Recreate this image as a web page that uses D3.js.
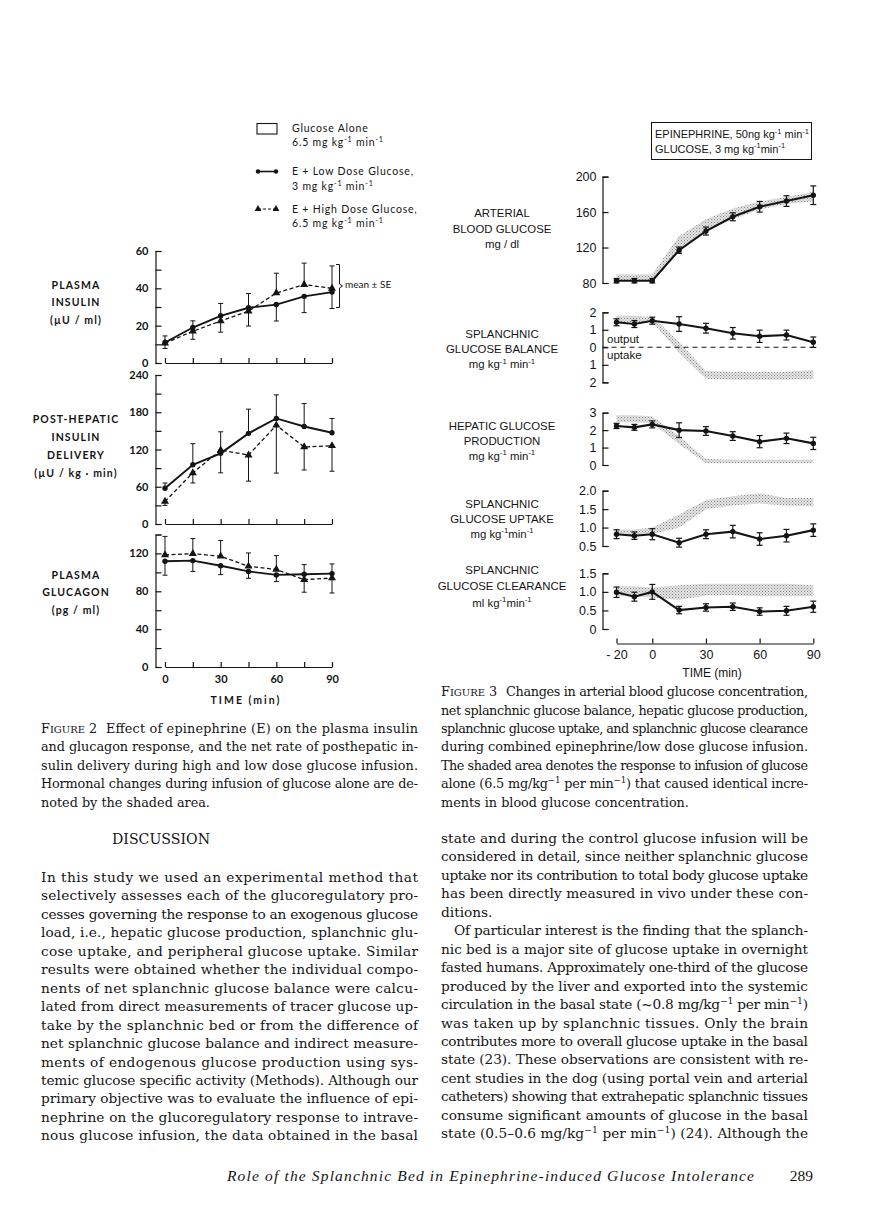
<!DOCTYPE html>
<html><head><meta charset="utf-8">
<script src="https://cdn.jsdelivr.net/npm/d3@7"></script>
<style>html,body{margin:0;padding:0;background:#fff}svg{display:block}</style>
</head><body>
<svg id="page" width="890" height="1228"></svg>
<script>
// ================= DATA =================
// Figure 2 (time in min)
const fig2Times = [0, 15, 30, 45, 60, 75, 90];
const fig2TimeLabels = [0, 30, 60, 90];
const insulinLow = [11, 19, 25.3, 29.6, 31.3, 35.7, 38];
const insulinLowSE = [3.5, 3.6, 6.6, 7.6, 8.8, 8.7, 8.8];
const insulinHigh = [10.6, 17, 22.5, 27.8, 37.5, 42, 40];
const insulinHighSE = [2.8, 4.3, 6, 8, 10.6, 11.5, 12];
const insulinTicks = [0, 20, 40, 60];
const insulinMinor = [10, 30, 50];
const deliveryLow = [57.5, 95.4, 113.8, 146, 170, 157, 147];
const deliveryLowSE = [8.5, 34, 31.4, 39, 38, 37, 23];
const deliveryHigh = [36.3, 82.4, 119, 111, 159, 124, 126];
const deliveryHighSE = [6.3, 16.4, 29.5, 42, 77, 37, 41];
const deliveryTicks = [0, 60, 120, 180, 240];
const deliveryMinor = [30, 90, 150, 210];
const glucagonLow = [111.7, 112.4, 107, 101, 97.3, 98, 98.7];
const glucagonLowSE = [14.7, 11.4, 9.4, 7.3, 7.1, 10.2, 10.2];
const glucagonHigh = [118.4, 119.8, 117, 106.4, 103, 92.3, 94];
const glucagonHighSE = [19.6, 15.9, 16.6, 14.1, 14.7, 13.3, 15.8];
const glucagonTicks = [0, 40, 80, 120];
const glucagonMinor = [20, 60, 100, 140];

// Figure 3 (time in min)
const fig3Times = [-20, -10, 0, 15, 30, 45, 60, 75, 90];
const fig3TickTimes = [-20, 0, 30, 60, 90];
const fig3TickLabels = ["- 20", "0", "30", "60", "90"];
const bloodGlucose = [82.6, 82.6, 82.6, 117, 138.6, 154.7, 166, 172.4, 179];
const bloodGlucoseSE = [2.5, 2.5, 2.5, 3.5, 4.5, 4.5, 6, 6, 10.5];
const bloodGlucoseAloneHi = [90, 90, 90, 133, 152, 164, 172, 177, 183];
const bloodGlucoseAloneLo = [82, 82, 82, 117, 138, 152, 163, 169, 172];
const bloodGlucoseTicks = [80, 120, 160, 200];
const balance = [1.43, 1.33, 1.52, 1.33, 1.09, 0.8, 0.63, 0.7, 0.29];
const balanceSE = [0.2, 0.2, 0.2, 0.42, 0.28, 0.33, 0.35, 0.28, 0.3];
const balanceAloneHi = [1.8, 1.8, 1.75, 0.3, -1.35, -1.4, -1.4, -1.4, -1.3];
const balanceAloneLo = [1.45, 1.45, 1.45, -0.3, -1.8, -1.85, -1.85, -1.85, -1.8];
const balanceTicks = [-2, -1, 0, 1, 2];
const production = [2.24, 2.16, 2.33, 2.0, 1.95, 1.66, 1.34, 1.53, 1.24];
const productionSE = [0.15, 0.17, 0.2, 0.42, 0.25, 0.25, 0.35, 0.3, 0.35];
const productionAloneHi = [2.85, 2.85, 2.8, 1.65, 0.35, 0.3, 0.3, 0.3, 0.3];
const productionAloneLo = [2.45, 2.45, 2.4, 1.2, 0.1, 0.1, 0.1, 0.1, 0.1];
const productionTicks = [0, 1, 2, 3];
const uptake = [0.82, 0.78, 0.82, 0.59, 0.82, 0.89, 0.69, 0.78, 0.93];
const uptakeSE = [0.12, 0.1, 0.15, 0.12, 0.12, 0.17, 0.17, 0.17, 0.17];
const uptakeAloneHi = [0.95, 0.95, 1.0, 1.35, 1.75, 1.85, 1.93, 1.8, 1.8];
const uptakeAloneLo = [0.8, 0.8, 0.82, 1.0, 1.5, 1.6, 1.65, 1.6, 1.57];
const uptakeTicks = [0.5, 1.0, 1.5, 2.0];
const clearance = [0.99, 0.87, 1.0, 0.51, 0.58, 0.6, 0.47, 0.49, 0.6];
const clearanceSE = [0.14, 0.12, 0.2, 0.1, 0.1, 0.1, 0.1, 0.12, 0.15];
const clearanceAloneHi = [1.15, 1.15, 1.12, 1.18, 1.22, 1.22, 1.22, 1.22, 1.18];
const clearanceAloneLo = [0.88, 0.88, 0.85, 0.78, 0.9, 0.9, 0.88, 0.88, 0.88];
const clearanceTicks = [0, 0.5, 1.0, 1.5];

// Page text
const caption2 = [
  "Effect of epinephrine (E) on the plasma insulin",
  "and glucagon response, and the net rate of posthepatic in-",
  "sulin delivery during high and low dose glucose infusion.",
  "Hormonal changes during infusion of glucose alone are de-",
  "noted by the shaded area."
];
const caption3 = [
  "Changes in arterial blood glucose concentration,",
  "net splanchnic glucose balance, hepatic glucose production,",
  "splanchnic glucose uptake, and splanchnic glucose clearance",
  "during combined epinephrine/low dose glucose infusion.",
  "The shaded area denotes the response to infusion of glucose",
  "alone (6.5 mg/kg^{−1} per min^{−1}) that caused identical incre-",
  "ments in blood glucose concentration."
];
const discussionLeft = [
  "In this study we used an experimental method that",
  "selectively assesses each of the glucoregulatory pro-",
  "cesses governing the response to an exogenous glucose",
  "load, i.e., hepatic glucose production, splanchnic glu-",
  "cose uptake, and peripheral glucose uptake. Similar",
  "results were obtained whether the individual compo-",
  "nents of net splanchnic glucose balance were calcu-",
  "lated from direct measurements of tracer glucose up-",
  "take by the splanchnic bed or from the difference of",
  "net splanchnic glucose balance and indirect measure-",
  "ments of endogenous glucose production using sys-",
  "temic glucose specific activity (Methods). Although our",
  "primary objective was to evaluate the influence of epi-",
  "nephrine on the glucoregulatory response to intrave-",
  "nous glucose infusion, the data obtained in the basal"
];
const discussionRight = [
  "state and during the control glucose infusion will be",
  "considered in detail, since neither splanchnic glucose",
  "uptake nor its contribution to total body glucose uptake",
  "has been directly measured in vivo under these con-",
  "ditions.",
  "Of particular interest is the finding that the splanch-",
  "nic bed is a major site of glucose uptake in overnight",
  "fasted humans. Approximately one-third of the glucose",
  "produced by the liver and exported into the systemic",
  "circulation in the basal state (~0.8 mg/kg^{−1} per min^{−1})",
  "was taken up by splanchnic tissues. Only the brain",
  "contributes more to overall glucose uptake in the basal",
  "state (23). These observations are consistent with re-",
  "cent studies in the dog (using portal vein and arterial",
  "catheters) showing that extrahepatic splanchnic tissues",
  "consume significant amounts of glucose in the basal",
  "state (0.5–0.6 mg/kg^{−1} per min^{−1}) (24). Although the"
];
const rightNoJustify = [4];
const rightIndent = [5];

// ================= DRAWING =================
const INK = "#141414";
const SERIF = "'DejaVu Serif','Liberation Serif',serif";
const FOOT = "'Liberation Serif','DejaVu Serif',serif";
const SANS2 = "Lato,'DejaVu Sans',sans-serif";
const SANS3 = "'Liberation Sans',Arial,sans-serif";
const svg = d3.select("#page");

const defs = svg.append("defs");
const pat = defs.append("pattern").attr("id", "stip").attr("patternUnits", "userSpaceOnUse")
  .attr("width", 3).attr("height", 3);
pat.append("rect").attr("width", 3).attr("height", 3).attr("fill", "#e2e2e2");
pat.append("rect").attr("x", 0).attr("y", 0).attr("width", 1).attr("height", 1).attr("fill", "#8a8a8a");
pat.append("rect").attr("x", 1.5).attr("y", 1.5).attr("width", 1).attr("height", 1).attr("fill", "#a8a8a8");

// rich text with ^{sup}
function rich(parent, x, y, str, o) {
  const fs = o.size;
  const t = parent.append("text").attr("x", x).attr("y", y)
    .attr("font-family", o.family).attr("font-size", fs).attr("fill", INK);
  if (o.weight) t.attr("font-weight", o.weight);
  if (o.anchor) t.attr("text-anchor", o.anchor);
  if (o.ls) t.attr("letter-spacing", o.ls);
  if (o.style) t.attr("font-style", o.style);
  const sh = fs * 0.38;
  let shifted = false;
  str.split(/(\^\{[^}]*\})/).forEach(p => {
    if (!p) return;
    if (p.startsWith("^{")) {
      t.append("tspan").attr("dy", shifted ? 0 : -sh).attr("font-size", fs * 0.68).text(p.slice(2, -1));
      shifted = true;
    } else {
      const ts = t.append("tspan").text(p);
      if (shifted) { ts.attr("dy", sh); shifted = false; }
    }
  });
  return t;
}

function styleAxis(g, family, size, weight) {
  g.attr("font-family", null).attr("font-size", null);
  g.selectAll("path,line").attr("stroke", INK).attr("stroke-width", 1.2);
  g.selectAll("text").attr("fill", INK).attr("font-family", family).attr("font-size", size)
    .attr("font-weight", weight || "normal");
}

// ---------- Figure 2 ----------
const fig2X = d3.scaleLinear().domain([0, 90]).range([165, 332]);
const FIG2_AXIS_X = 155.5;

function fig2Panel(o) {
  const g = svg.append("g");
  const y = d3.scaleLinear().domain(o.domain).range([o.bottom, o.top]);
  const all = o.major.concat(o.minor).sort(d3.ascending);
  const ya = d3.axisLeft(y).tickValues(all).tickSize(-6).tickSizeOuter(-6).tickPadding(7)
    .tickFormat(d => o.major.includes(d) ? d : "");
  const yg = g.append("g").attr("transform", `translate(${FIG2_AXIS_X},0)`).call(ya);
  styleAxis(yg, SANS2, 11, 700);
  const xa = d3.axisTop(fig2X).tickValues(fig2Times).tickSize(5).tickSizeOuter(0).tickFormat("");
  const xg = g.append("g").attr("transform", `translate(0,${o.bottom})`).call(xa);
  styleAxis(xg, SANS2, 11, 700);
  if (o.xLabels) {
    const xl = d3.axisBottom(fig2X).tickValues(fig2TimeLabels).tickSize(0).tickPadding(8);
    const xlg = g.append("g").attr("transform", `translate(0,${o.bottom})`).call(xl);
    xlg.select(".domain").remove();
    styleAxis(xlg, SANS2, 11, 700);
  }
  const line = d3.line().x((d, i) => fig2X(fig2Times[i])).y(d => y(d));
  // error bars: higher series bar up, lower series bar down
  function bars(vals, se, other) {
    vals.forEach((v, i) => {
      const dir = v >= other[i] ? 1 : -1;
      const x = fig2X(fig2Times[i]), y1 = y(v), y2 = y(v + dir * se[i]);
      g.append("line").attr("x1", x).attr("x2", x).attr("y1", y1).attr("y2", y2)
        .attr("stroke", INK).attr("stroke-width", 1);
      g.append("line").attr("x1", x - 2.5).attr("x2", x + 2.5).attr("y1", y2).attr("y2", y2)
        .attr("stroke", INK).attr("stroke-width", 1);
    });
  }
  bars(o.low, o.lowSE, o.high);
  bars(o.high, o.highSE, o.low);
  g.append("path").datum(o.high).attr("d", line).attr("fill", "none").attr("stroke", INK)
    .attr("stroke-width", 1.3).attr("stroke-dasharray", "4,2.5");
  g.append("path").datum(o.low).attr("d", line).attr("fill", "none").attr("stroke", INK)
    .attr("stroke-width", 1.9);
  const tri = d3.symbol(d3.symbolTriangle).size(28);
  o.high.forEach((v, i) => g.append("path").attr("d", tri)
    .attr("transform", `translate(${fig2X(fig2Times[i])},${y(v)})`).attr("fill", INK));
  o.low.forEach((v, i) => g.append("circle").attr("cx", fig2X(fig2Times[i])).attr("cy", y(v))
    .attr("r", 2.7).attr("fill", INK));
  o.label.forEach((s, i) => rich(g, 76, o.labelY[i], s,
    { family: SANS2, size: 10.5, weight: 700, anchor: "middle", ls: 1.1 }));
  return y;
}

fig2Panel({ domain: [0, 60], bottom: 363, top: 251, major: insulinTicks, minor: insulinMinor,
  low: insulinLow, lowSE: insulinLowSE, high: insulinHigh, highSE: insulinHighSE,
  label: ["PLASMA", "INSULIN", "(µU / ml)"], labelY: [289, 306, 324] });
fig2Panel({ domain: [0, 240], bottom: 524, top: 375, major: deliveryTicks, minor: deliveryMinor,
  low: deliveryLow, lowSE: deliveryLowSE, high: deliveryHigh, highSE: deliveryHighSE,
  label: ["POST-HEPATIC", "INSULIN", "DELIVERY", "(µU / kg · min)"], labelY: [423, 441, 459, 477] });
fig2Panel({ domain: [0, 140], bottom: 667, top: 534.5, major: glucagonTicks, minor: glucagonMinor,
  low: glucagonLow, lowSE: glucagonLowSE, high: glucagonHigh, highSE: glucagonHighSE,
  label: ["PLASMA", "GLUCAGON", "(pg / ml)"], labelY: [579, 596, 614], xLabels: true });
svg.append("text").attr("x", 246).attr("y", 704).attr("text-anchor", "middle")
  .attr("font-family", SANS2).attr("font-size", 10.5).attr("font-weight", 700)
  .attr("letter-spacing", 2).attr("fill", INK).text("TIME (min)");

// mean ± SE bracket
svg.append("path").attr("d", "M336,264.5H339.5V284L342.5,286L339.5,288V307.5H336")
  .attr("fill", "none").attr("stroke", INK).attr("stroke-width", 1);
svg.append("text").attr("x", 345).attr("y", 287.5).attr("font-family", SANS2).attr("font-size", 10)
  .attr("fill", INK).text("mean ± SE");

// legend
const lg = svg.append("g");
lg.append("rect").attr("x", 257).attr("y", 123.5).attr("width", 20).attr("height", 10.5)
  .attr("fill", "none").attr("stroke", INK).attr("stroke-width", 1.1);
lg.append("line").attr("x1", 258).attr("x2", 276).attr("y1", 171.5).attr("y2", 171.5)
  .attr("stroke", INK).attr("stroke-width", 1.6);
[258, 276].forEach(x => lg.append("circle").attr("cx", x).attr("cy", 171.5).attr("r", 2.2).attr("fill", INK));
lg.append("line").attr("x1", 258).attr("x2", 276).attr("y1", 209).attr("y2", 209)
  .attr("stroke", INK).attr("stroke-width", 1.2).attr("stroke-dasharray", "3,2");
[258, 276].forEach(x => lg.append("path").attr("d", d3.symbol(d3.symbolTriangle).size(20))
  .attr("transform", `translate(${x},209)`).attr("fill", INK));
const legendLines = [
  ["Glucose Alone", 131.5], ["6.5 mg  kg^{-1}  min^{-1}", 146],
  ["E + Low Dose Glucose,", 175], ["3 mg  kg^{-1}  min^{-1}", 190],
  ["E + High Dose Glucose,", 212.5], ["6.5 mg  kg^{-1}  min^{-1}", 227]
];
legendLines.forEach(([s, yy]) => rich(lg, 292, yy, s, { family: SANS2, size: 10.5, ls: 0.8 }));

// ---------- Figure 3 ----------
const fig3X = d3.scaleLinear().domain([-20, 90]).range([616.5, 813.3]);
const FIG3_AXIS_X = 602.5;

function fig3Panel(o) {
  const g = svg.append("g");
  const y = d3.scaleLinear().domain(o.domain).range([o.bottom, o.top]);
  const area = d3.area().x((d, i) => fig3X(fig3Times[i]))
    .y0((d, i) => y(o.lo[i])).y1((d, i) => y(o.hi[i]));
  g.append("path").datum(o.hi).attr("d", area).attr("fill", "url(#stip)");
  const ya = d3.axisLeft(y).tickValues(o.ticks).tickSize(-6).tickSizeOuter(-6).tickPadding(6)
    .tickFormat(o.fmt);
  const yg = g.append("g").attr("transform", `translate(${FIG3_AXIS_X},0)`).call(ya);
  styleAxis(yg, SANS3, 12.5);
  if (o.zero) {
    g.append("line").attr("x1", FIG3_AXIS_X).attr("x2", 817).attr("y1", y(0)).attr("y2", y(0))
      .attr("stroke", INK).attr("stroke-width", 1.1).attr("stroke-dasharray", "5,4");
  }
  const line = d3.line().x((d, i) => fig3X(fig3Times[i])).y(d => y(d));
  o.vals.forEach((v, i) => {
    const x = fig3X(fig3Times[i]);
    const a = y(v + o.se[i]), b = y(v - o.se[i]);
    g.append("line").attr("x1", x).attr("x2", x).attr("y1", a).attr("y2", b)
      .attr("stroke", INK).attr("stroke-width", 1.2);
    [a, b].forEach(yy => g.append("line").attr("x1", x - 3).attr("x2", x + 3).attr("y1", yy).attr("y2", yy)
      .attr("stroke", INK).attr("stroke-width", 1.2));
  });
  g.append("path").datum(o.vals).attr("d", line).attr("fill", "none").attr("stroke", INK)
    .attr("stroke-width", 2.1);
  o.vals.forEach((v, i) => g.append("circle").attr("cx", fig3X(fig3Times[i])).attr("cy", y(v))
    .attr("r", 2.7).attr("fill", INK));
  o.label.forEach((s, i) => rich(g, 502, o.labelY[i], s,
    { family: SANS3, size: 11.4, anchor: "middle" }));
  return y;
}

fig3Panel({ domain: [80, 200], bottom: 283, top: 176.6, ticks: bloodGlucoseTicks, fmt: d3.format("d"),
  vals: bloodGlucose, se: bloodGlucoseSE, hi: bloodGlucoseAloneHi, lo: bloodGlucoseAloneLo,
  label: ["ARTERIAL", "BLOOD GLUCOSE", "mg / dl"], labelY: [217, 233, 248] });
fig3Panel({ domain: [-2, 2], bottom: 382.3, top: 312.3, ticks: balanceTicks, fmt: d => Math.abs(d),
  vals: balance, se: balanceSE, hi: balanceAloneHi, lo: balanceAloneLo, zero: true,
  label: ["SPLANCHNIC", "GLUCOSE BALANCE", "mg  kg^{-1} min^{-1}"], labelY: [337.5, 353, 368] });
fig3Panel({ domain: [0, 3], bottom: 465, top: 412.7, ticks: productionTicks, fmt: d3.format("d"),
  vals: production, se: productionSE, hi: productionAloneHi, lo: productionAloneLo,
  label: ["HEPATIC GLUCOSE", "PRODUCTION", "mg  kg^{-1} min^{-1}"], labelY: [430, 444.5, 459.5] });
fig3Panel({ domain: [0.5, 2.0], bottom: 546, top: 490.7, ticks: uptakeTicks, fmt: d3.format(".1f"),
  vals: uptake, se: uptakeSE, hi: uptakeAloneHi, lo: uptakeAloneLo,
  label: ["SPLANCHNIC", "GLUCOSE UPTAKE", "mg  kg^{-1}min^{-1}"], labelY: [507.5, 522.5, 537.5] });
fig3Panel({ domain: [0, 1.5], bottom: 629, top: 573.3, ticks: clearanceTicks,
  fmt: d => d === 0 ? "0" : d.toFixed(1),
  vals: clearance, se: clearanceSE, hi: clearanceAloneHi, lo: clearanceAloneLo,
  label: ["SPLANCHNIC", "GLUCOSE CLEARANCE", "ml  kg^{-1}min^{-1}"], labelY: [573.5, 590, 606.5] });

// output / uptake annotations
rich(svg, 607, 343, "output", { family: SANS3, size: 11.5 });
rich(svg, 607, 359, "uptake", { family: SANS3, size: 11.5 });

// Fig 3 time axis
const x3a = d3.axisTop(fig3X).tickValues(fig3TickTimes).tickSize(5).tickSizeOuter(0).tickFormat("");
const x3g = svg.append("g").attr("transform", "translate(0,643.5)").call(x3a);
styleAxis(x3g, SANS3, 12.5);
const x3l = d3.axisBottom(fig3X).tickValues(fig3TickTimes).tickSize(0).tickPadding(7)
  .tickFormat((d, i) => fig3TickLabels[i]);
const x3lg = svg.append("g").attr("transform", "translate(0,643.5)").call(x3l);
x3lg.select(".domain").remove();
styleAxis(x3lg, SANS3, 12.5);
svg.append("text").attr("x", 712).attr("y", 676.5).attr("text-anchor", "middle")
  .attr("font-family", SANS3).attr("font-size", 12).attr("fill", INK).text("TIME  (min)");

// condition box
svg.append("rect").attr("x", 651.5).attr("y", 122.5).attr("width", 160).attr("height", 37)
  .attr("fill", "none").attr("stroke", INK).attr("stroke-width", 1);
rich(svg, 655, 138, "EPINEPHRINE, 50ng kg^{-1} min^{-1}", { family: SANS3, size: 11 });
rich(svg, 655, 152.5, "GLUCOSE, 3 mg kg^{-1}min^{-1}", { family: SANS3, size: 11 });

// ---------- Page text ----------
function justified(parent, x, y, width, str, size, justify) {
  const t = rich(parent, x, y, str, { family: SERIF, size: size });
  if (justify) t.attr("textLength", width).attr("lengthAdjust", "spacing");
  return t;
}
function captionHead(parent, x, y, num, size) {
  const t = parent.append("text").attr("x", x).attr("y", y).attr("font-family", SERIF)
    .attr("font-size", size).attr("fill", INK);
  t.append("tspan").text("F");
  t.append("tspan").attr("font-size", size * 0.78).text("IGURE");
  t.append("tspan").text(" " + num);
  return t;
}
const CAP = 12.8, BODY = 13.7, LH = 18.45;

// Figure 2 caption (left column)
const c2y0 = 733;
captionHead(svg, 41, c2y0, 2, CAP);
caption2.forEach((s, i) => {
  if (i === 0) justified(svg, 106, c2y0, 312, s, CAP, true);
  else justified(svg, 41, c2y0 + i * LH, 377, s, CAP, i < caption2.length - 1);
});
// Figure 3 caption (right column)
const c3y0 = c2y0 - 2 * LH;
captionHead(svg, 441, c3y0, 3, CAP);
caption3.forEach((s, i) => {
  if (i === 0) justified(svg, 506, c3y0, 302, s, CAP, true);
  else justified(svg, 441, c3y0 + i * LH, 367, s, CAP, i < caption3.length - 1);
});

// Discussion heading
svg.append("text").attr("x", 112).attr("y", 844).attr("font-family", SERIF).attr("font-size", 15.5)
  .attr("fill", INK).attr("textLength", 98).attr("lengthAdjust", "spacingAndGlyphs").text("DISCUSSION");
discussionLeft.forEach((s, i) => justified(svg, 41, 882 + i * LH, 377, s, BODY, true));
discussionRight.forEach((s, i) => {
  const ind = rightIndent.includes(i) ? 13 : 0;
  justified(svg, 441 + ind, 843 + i * LH, 367 - ind, s, BODY, !rightNoJustify.includes(i));
});

// footer
svg.append("text").attr("x", 227).attr("y", 1181).attr("font-family", FOOT).attr("font-size", 15.5)
  .attr("font-style", "italic").attr("fill", INK).attr("textLength", 527).attr("lengthAdjust", "spacing")
  .text("Role of the Splanchnic Bed in Epinephrine-induced Glucose Intolerance");
svg.append("text").attr("x", 813).attr("y", 1181).attr("text-anchor", "end").attr("font-family", FOOT)
  .attr("font-size", 15.5).attr("fill", INK).text("289");
</script>
</body></html>
